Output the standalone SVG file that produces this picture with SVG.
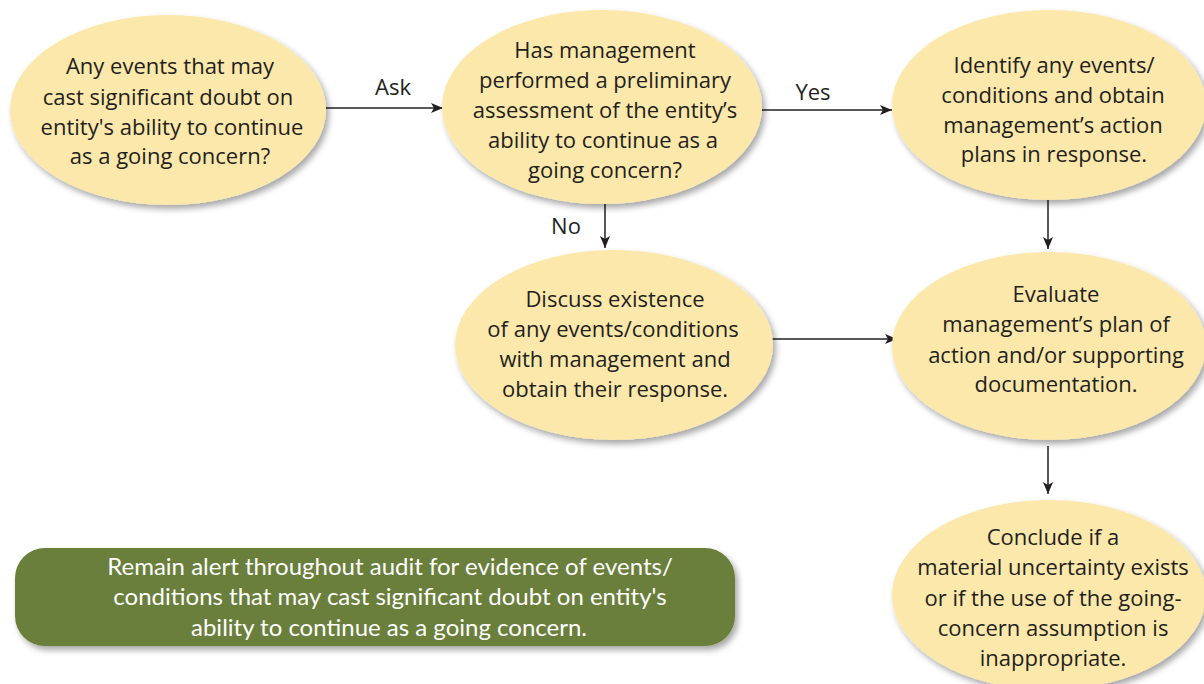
<svg xmlns="http://www.w3.org/2000/svg" width="1204" height="684" viewBox="0 0 1204 684">
<style>
.node{fill:#fce8aa;filter:url(#sh)}
.t{font-family:"Open Sans","Liberation Sans",sans-serif;font-size:22px;fill:#231f20;text-anchor:middle}
.w{font-family:Lato,"Liberation Sans",sans-serif;font-size:24px;fill:#ffffff;text-anchor:middle}
.c{stroke:#231f20;stroke-width:1.5;fill:none;marker-end:url(#ah)}
</style>
<defs>
<filter id="sh" x="-10%" y="-10%" width="125%" height="130%">
<feDropShadow dx="3" dy="4" stdDeviation="3" flood-color="#000" flood-opacity="0.35"/>
</filter>
<marker id="ah" markerWidth="14" markerHeight="12" refX="12" refY="6" orient="auto" markerUnits="userSpaceOnUse">
<path d="M0,1 L12,6 L0,11 L3,6 Z" fill="#231f20"/>
</marker>
</defs>
<rect width="1204" height="684" fill="#ffffff"/>
<g id="connectors">
<line class="c" x1="326" y1="108" x2="443" y2="108"/>
<line class="c" x1="762" y1="110" x2="892" y2="110"/>
<line class="c" x1="605" y1="203" x2="605" y2="248"/>
<line class="c" x1="1048" y1="200" x2="1048" y2="249"/>
<line class="c" x1="772" y1="339" x2="897" y2="339"/>
<line class="c" x1="1048" y1="446" x2="1048" y2="494"/>
<text class="t" x="393" y="95">Ask</text>
<text class="t" x="813" y="100">Yes</text>
<text class="t" x="566" y="234">No</text>
</g>
<g id="n1">
<ellipse class="node" cx="168" cy="110" rx="158" ry="95"/>
<text class="t" x="170" y="74">Any events that may</text>
<text class="t" x="168" y="105">cast significant doubt on</text>
<text class="t" x="172" y="135">entity's ability to continue</text>
<text class="t" x="170" y="164">as a going concern?</text>
</g>
<g id="n2">
<ellipse class="node" cx="602" cy="107" rx="160" ry="97"/>
<text class="t" x="605" y="58">Has management</text>
<text class="t" x="605" y="88">performed a preliminary</text>
<text class="t" x="605" y="118">assessment of the entity’s</text>
<text class="t" x="603" y="148">ability to continue as a</text>
<text class="t" x="605" y="178">going concern?</text>
</g>
<g id="n3">
<ellipse class="node" cx="1049" cy="105" rx="157" ry="95"/>
<text class="t" x="1054" y="73">Identify any events/</text>
<text class="t" x="1053" y="103">conditions and obtain</text>
<text class="t" x="1053" y="133">management’s action</text>
<text class="t" x="1054" y="162">plans in response.</text>
</g>
<g id="n4">
<ellipse class="node" cx="614" cy="345" rx="159" ry="95"/>
<text class="t" x="615" y="307">Discuss existence</text>
<text class="t" x="613" y="337">of any events/conditions</text>
<text class="t" x="615" y="367">with management and</text>
<text class="t" x="615" y="397">obtain their response.</text>
</g>
<g id="n5">
<ellipse class="node" cx="1049" cy="346" rx="157" ry="94"/>
<text class="t" x="1056" y="302">Evaluate</text>
<text class="t" x="1056" y="332">management’s plan of</text>
<text class="t" x="1056" y="363">action and/or supporting</text>
<text class="t" x="1056" y="392">documentation.</text>
</g>
<g id="n6">
<ellipse class="node" cx="1049" cy="595" rx="157" ry="95"/>
<text class="t" x="1053" y="545">Conclude if a</text>
<text class="t" x="1053" y="575">material uncertainty exists</text>
<text class="t" x="1053" y="606">or if the use of the going-</text>
<text class="t" x="1053" y="636">concern assumption is</text>
<text class="t" x="1053" y="666">inappropriate.</text>
</g>
<g id="n7">
<rect x="15" y="548" width="720" height="98" rx="30" ry="30" fill="#6a7f3b" filter="url(#sh)"/>
<text class="w" x="390" y="575">Remain alert throughout audit for evidence of events/</text>
<text class="w" x="390" y="605">conditions that may cast significant doubt on entity's</text>
<text class="w" x="389" y="636">ability to continue as a going concern.</text>
</g>
</svg>
